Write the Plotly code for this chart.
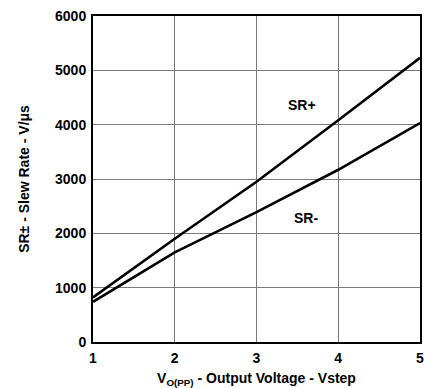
import plotly.graph_objects as go

# Output voltage step (V)
vstep = [1, 2, 3, 4, 5]
# Slew rates (V/us)
sr_plus = [820, 1900, 2950, 4080, 5230]
sr_minus = [740, 1650, 2390, 3170, 4030]

labels = ["SR+", "SR-"]
label_x = [3.56, 3.6]
label_y = [4370, 2280]

fnt = dict(family="Liberation Sans, Arial, sans-serif", size=14, color="black")

fig = go.Figure()

fig.add_trace(
    go.Scatter(x=vstep, y=sr_plus, mode="lines", name="SR+",
               line=dict(color="black", width=2.6))
)
fig.add_trace(
    go.Scatter(x=vstep, y=sr_minus, mode="lines", name="SR-",
               line=dict(color="black", width=2.6))
)

for txt, lx, ly in zip(labels, label_x, label_y):
    fig.add_annotation(x=lx, y=ly, text="<b>" + txt + "</b>", showarrow=False,
                       font=fnt)

fig.update_layout(
    width=437,
    height=388,
    showlegend=False,
    plot_bgcolor="white",
    paper_bgcolor="white",
    margin=dict(l=93, r=17, t=16, b=46),
    font=fnt,
)

fig.update_xaxes(
    range=[1, 5],
    tickvals=vstep,
    ticktext=["<b>%d</b>" % v for v in vstep],
    showgrid=True,
    gridcolor="#7a7a7a",
    gridwidth=1,
    showline=True,
    linecolor="black",
    linewidth=2,
    mirror=True,
    ticks="",
    zeroline=False,
    automargin=False,
    ticklabelstandoff=2,
    title=dict(text="<b>V<sub>O(PP)</sub> - Output Voltage - Vstep</b>",
               standoff=13, font=fnt),
)

yticks = [0, 1000, 2000, 3000, 4000, 5000, 6000]
fig.update_yaxes(
    range=[0, 6000],
    tickvals=yticks,
    ticktext=["<b>%d</b>" % v for v in yticks],
    showgrid=True,
    gridcolor="#7a7a7a",
    gridwidth=1,
    showline=True,
    linecolor="black",
    linewidth=2,
    mirror=True,
    ticks="",
    zeroline=False,
    automargin=False,
    ticklabelstandoff=2,
    title=dict(text="<b>SR\u00b1 - Slew Rate - V/\u03bcs</b>", standoff=22, font=fnt),
)

# drop the default page margin so the figure sits at the window's corner
fig.write_html("out.html", config={"displayModeBar": False},
               post_script="document.body.style.margin='0';")
